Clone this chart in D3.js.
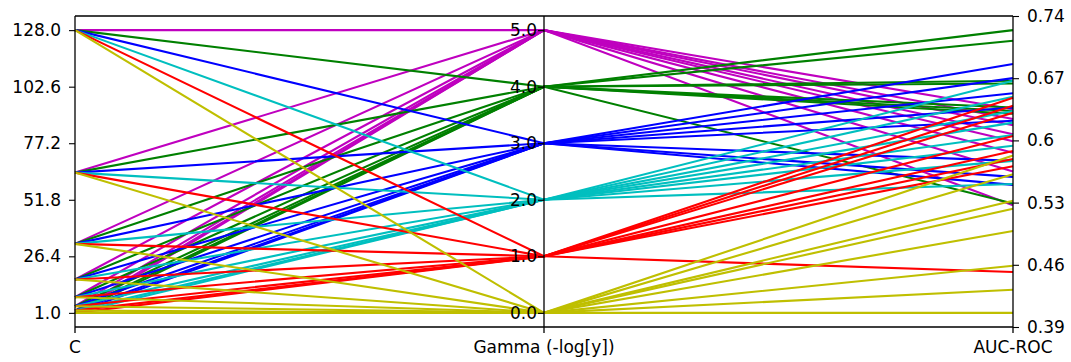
<!DOCTYPE html>
<meta charset="utf-8">
<style>
    body { margin: 0; background: #fff; }
    svg { display: block; font-family: "DejaVu Sans", sans-serif; }
    .tick text { font-size: 17px; fill: #000; }
    .xlabel { font-size: 17px; fill: #000; }
    .tick line { stroke: #000; stroke-width: 1.1px; }
    .spine { stroke: #000; stroke-width: 1.3px; fill: none; }
    .lines path { fill: none; stroke-width: 2.1px; }
</style>
<svg width="1071" height="362"></svg>
<script src="https://cdnjs.cloudflare.com/ajax/libs/d3/7.8.5/d3.min.js"></script>
<script>

    // grid of the search: C values and gamma (-log y) values
    var cValues = [1, 2, 4, 8, 16, 32, 64, 128];
    var gammaValues = [5, 4, 3, 2, 1, 0];   // drawing order

    // AUC-ROC per gamma, one value per C
    var auc5 = [0.636, 0.625, 0.618, 0.608, 0.600, 0.587, 0.566, 0.528];
    var auc4 = [0.725, 0.713, 0.668, 0.665, 0.638, 0.634, 0.631, 0.530];
    var auc3 = [0.687, 0.671, 0.654, 0.638, 0.623, 0.578, 0.560, 0.551];
    var auc2 = [0.668, 0.650, 0.634, 0.621, 0.607, 0.595, 0.578, 0.552];
    var auc1 = [0.649, 0.640, 0.632, 0.606, 0.589, 0.580, 0.572, 0.453];
    var auc0 = [0.584, 0.563, 0.533, 0.524, 0.499, 0.460, 0.433, 0.407];
    var aucByGamma = {5: auc5, 4: auc4, 3: auc3, 2: auc2, 1: auc1, 0: auc0};

    var gammaColors = {0: "#bfbf00", 1: "#ff0000", 2: "#00bfbf", 3: "#0000ff", 4: "#008000", 5: "#bf00bf"};
    var axisNames = ["C", "Gamma (-log[y])", "AUC-ROC"];

    var rows = [];
    gammaValues.forEach(function(g) {
        cValues.forEach(function(c, i) {
            rows.push({c: c, g: g, auc: aucByGamma[g][i]});
        });
    });

    var svg = d3.select("svg");
    var xLeft = 75, xRight = 1013, xMid = (xLeft + xRight) / 2;
    var yTop = 16, yBottom = 327;
    var pad = (yBottom - yTop) * 0.05 / 1.1;
    var yIn = [yBottom - pad, yTop + pad];

    var xPos = [xLeft, xMid, xRight];

    var yC = d3.scaleLinear().domain(d3.extent(cValues)).range(yIn);
    var yG = d3.scaleLinear().domain(d3.extent(gammaValues)).range(yIn);
    var yA = d3.scaleLinear().domain(d3.extent(rows, function(d) { return d.auc; })).range(yIn);

    // lines
    var line = d3.line();
    svg.append("g")
            .attr("class", "lines")
            .selectAll("path")
            .data(rows)
            .enter().append("path")
            .attr("stroke", function(d) { return gammaColors[d.g]; })
            .attr("d", function(d) {
                return line([[xPos[0], yC(d.c)], [xPos[1], yG(d.g)], [xPos[2], yA(d.auc)]]);
            });

    // frame
    svg.append("path").attr("class", "spine")
            .attr("d", "M" + xLeft + "," + yTop + "H" + xRight + "M" + xLeft + "," + yBottom + "H" + xRight);
    xPos.forEach(function(x) {
        svg.append("line").attr("class", "spine")
                .attr("x1", x).attr("x2", x).attr("y1", yTop).attr("y2", yBottom + 6);
    });

    // left axis: C
    var cTicks = d3.range(6).map(function(i) { return cValues[0] + i * (d3.max(cValues) - cValues[0]) / 5; });
    svg.append("g")
            .attr("transform", "translate(" + xLeft + ",0)")
            .call(d3.axisLeft(yC).tickValues(cTicks).tickFormat(d3.format(".1f")).tickSize(6).tickPadding(8))
            .call(function(g) { g.select(".domain").remove(); })
            .attr("font-family", null).attr("font-size", null);

    // middle axis: gamma
    svg.append("g")
            .attr("transform", "translate(" + xMid + ",0)")
            .call(d3.axisLeft(yG).tickValues(d3.range(6)).tickFormat(d3.format(".1f")).tickSize(6).tickPadding(1))
            .call(function(g) { g.select(".domain").remove(); })
            .attr("font-family", null).attr("font-size", null);

    // right axis: AUC, ticks spread over the whole height
    var aucTicks = d3.range(6).map(function(i) { return yA.invert(yBottom - i * (yBottom - yTop) / 5); });
    svg.append("g")
            .attr("transform", "translate(" + xRight + ",0)")
            .call(d3.axisRight(yA).tickValues(aucTicks).tickFormat(function(v) { return String(+v.toFixed(2)); })
                    .tickSize(6).tickPadding(8))
            .call(function(g) { g.select(".domain").remove(); })
            .attr("font-family", null).attr("font-size", null);

    // x labels
    svg.append("g").selectAll("text")
            .data(axisNames)
            .enter().append("text")
            .attr("class", "xlabel")
            .attr("x", function(d, i) { return xPos[i]; })
            .attr("y", 353)
            .attr("text-anchor", "middle")
            .text(function(d) { return d; });

</script>
